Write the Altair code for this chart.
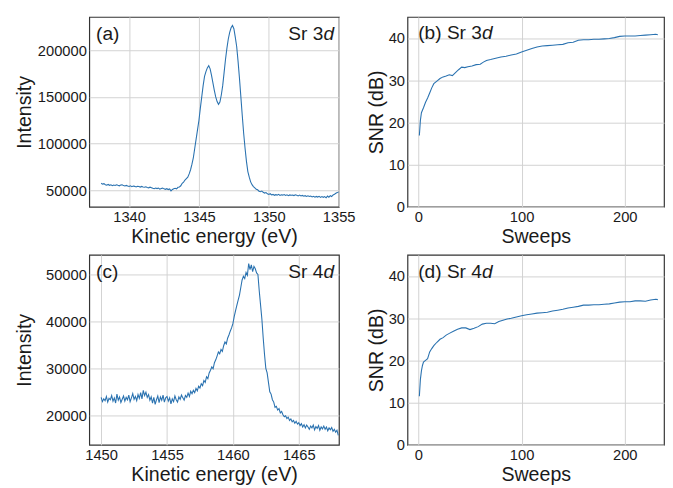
import altair as alt
import pandas as pd

# ---------------- data ----------------
# (a) Sr 3d spectrum: kinetic energy grid 1338.0 .. 1355.0, step 0.1 eV
a_e0, a_de = 1338.0, 0.1
a_intensity = [
    57500, 56600, 57100, 55900, 55500, 56200, 55300, 55800, 54900, 55600,
    55200, 55900, 55300, 54800, 55600, 55800, 55000, 54600, 55200, 54500,
    54000, 54700, 53900, 54500, 54200, 53600, 54300, 54000, 53400, 54100,
    53600, 53200, 53800, 53000, 52600, 53300, 52800, 52200, 51700, 52400,
    51800, 52400, 51200, 51900, 52300, 51500, 51000, 51700, 50800, 51400,
    49300, 50900, 51700, 52200, 51500, 53200, 53600, 54800, 57500, 58800,
    61000, 62500, 64000, 67500, 72000, 78000, 85000, 95000, 105000, 115000,
    125000, 138000, 150000, 162000, 172000, 177000, 181000, 183500, 180000, 173000,
    165000, 157000, 150000, 145000, 142000, 144500, 152000, 162000, 176000, 190000,
    202000, 212000, 219000, 224000, 226500, 223000, 214000, 204000, 188000, 170000,
    150000, 130000, 111000, 95000, 81000, 70000, 64000, 59000, 56000, 54000,
    52500, 51000, 50500, 49000, 48500, 49200, 47800, 47000, 47500, 46200,
    45500, 46300, 45000, 45600, 44600, 45300, 44800, 45700, 44500, 45200,
    44800, 45400, 44500, 45100, 44200, 45000, 44600, 44900, 44300, 45100,
    44600, 44000, 44800, 43900, 44500, 43600, 44200, 43400, 44100, 43300,
    43800, 42900, 43600, 42600, 43400, 42700, 43500, 42400, 43300, 42500,
    43200, 41900, 43800, 42600, 44200, 43300, 45000, 45800, 46800, 47500,
    48300,
]

# (c) Sr 4d spectrum: kinetic energy grid 1450.0 .. 1468.0, step 0.1 eV
c_e0, c_de = 1450.0, 0.1
c_intensity = [
    23800, 22900, 23500, 23100, 24000, 22800, 23600, 23300, 24200, 23000,
    23700, 22600, 24500, 23200, 23900, 22700, 23400, 24100, 23000, 23800,
    23300, 24300, 22900, 23700, 24600, 23400, 24000, 23100, 24400, 23600,
    24800, 23500, 25300, 24200, 24900, 23800, 24400, 23200, 23900, 22600,
    23800, 22300, 23300, 24100, 22700, 23900, 23200, 24300, 22800, 23700,
    24000, 23000, 23700, 22400, 23500, 22900, 24100, 23300, 22800, 23900,
    23400, 24300, 23700, 23200, 24200, 23800, 24700, 24000, 25100, 24600,
    25300, 24800, 25700, 25200, 26200, 25800, 26700, 26300, 27400, 27000,
    28200, 27800, 29000, 29600, 30300, 29900, 31200, 31800, 32600, 33500,
    33100, 34000, 33600, 34800, 35600, 35200, 36400, 37100, 37900, 38600,
    39500, 41000, 42200, 43400, 44500, 45600, 47200, 48800, 49600, 49100,
    50400, 49800, 52300, 51000, 52000, 50600, 51700, 51200, 50300, 50000,
    46500, 43500, 40500, 36500, 33000, 30000, 29000, 27000, 25000, 24500,
    23300, 22800, 21700, 21900, 21100, 21400, 20500, 20800, 20100, 19700,
    19900, 19300, 19600, 18900, 19200, 18600, 18900, 18300, 18700, 18100,
    18400, 17800, 18200, 17500, 18000, 17300, 17900, 17500, 17000, 17700,
    17300, 17900, 16900, 17600, 17200, 17800, 16800, 17500, 17100, 17700,
    17000, 17500, 16700, 17300, 16900, 17400, 16600, 17000, 16400, 16800,
    15700,
]

# (b) SNR vs sweeps, Sr 3d
b_sweeps = [1, 2, 3, 5, 7, 9, 11, 13, 15, 18, 21, 24, 27, 30, 33, 36, 39, 42, 45, 48,
            52, 56, 60, 63, 66, 70, 75, 80, 85, 90, 95, 100, 105, 110, 115, 120, 125,
            130, 135, 140, 145, 150, 155, 160, 165, 170, 175, 180, 185, 190, 195, 200,
            205, 210, 215, 220, 225, 230, 232]
b_snr = [16.9, 20.5, 22.3, 23.5, 24.8, 25.8, 27.0, 28.2, 29.2, 29.8, 30.4, 30.8, 31.0,
         31.3, 31.1, 31.8, 32.5, 33.1, 33.0, 33.2, 33.4, 33.7, 33.8, 34.3, 34.7, 34.9,
         35.2, 35.5, 35.7, 36.0, 36.2, 36.7, 37.1, 37.5, 37.9, 38.1, 38.2, 38.3, 38.4,
         38.5, 38.9, 39.0, 39.5, 39.6, 39.6, 39.7, 39.7, 39.8, 39.9, 40.1, 40.4, 40.5,
         40.5, 40.5, 40.6, 40.7, 40.8, 40.9, 40.8]

# (d) SNR vs sweeps, Sr 4d
d_sweeps = [1, 2, 3, 4, 5, 7, 9, 11, 13, 15, 18, 21, 24, 27, 30, 34, 38, 42, 46, 50,
            54, 58, 62, 66, 70, 74, 78, 82, 86, 90, 95, 100, 105, 110, 115, 120, 125,
            130, 135, 140, 145, 150, 155, 160, 165, 170, 175, 180, 185, 190, 195, 200,
            205, 210, 215, 220, 225, 230, 232]
d_snr = [11.5, 15.5, 17.5, 18.8, 19.6, 20.0, 20.4, 22.0, 22.8, 23.5, 24.3, 25.0, 25.4,
         26.0, 26.4, 26.9, 27.4, 27.7, 27.7, 27.3, 27.6, 28.0, 28.6, 28.8, 28.8, 28.7,
         29.2, 29.5, 29.8, 30.0, 30.3, 30.6, 30.8, 31.0, 31.2, 31.3, 31.4, 31.7, 31.9,
         32.1, 32.4, 32.6, 32.8, 33.1, 33.1, 33.2, 33.2, 33.3, 33.4, 33.6, 33.8, 33.9,
         33.9, 34.1, 34.1, 34.0, 34.3, 34.5, 34.4]

panel_tags = ["(a)", "(b) Sr 3", "(c)", "(d) Sr 4"]
core_labels = ["Sr 3", "Sr 4"]
italic_part = "d"

# ---------------- style ----------------
FONT = "Liberation Sans"
LINE = "#2a72b0"
TXT = "#1a1a1a"
W1, W2, H = 255, 262, 194
ANN = 19.5

df_a = pd.DataFrame({"e": [round(a_e0 + a_de * i, 2) for i in range(len(a_intensity))],
                     "v": a_intensity})
df_c = pd.DataFrame({"e": [round(c_e0 + c_de * i, 2) for i in range(len(c_intensity))],
                     "v": c_intensity})
df_b = pd.DataFrame({"s": b_sweeps, "v": b_snr})
df_d = pd.DataFrame({"s": d_sweeps, "v": d_snr})


def txt(label, x, y, align="left", italic=False):
    return alt.Chart(pd.DataFrame({"t": [label]})).mark_text(
        align=align, baseline="alphabetic", font=FONT, fontSize=ANN, color=TXT,
        fontStyle="italic" if italic else "normal",
    ).encode(x=alt.value(x), y=alt.value(y), text="t:N")


def spectrum(df, dom_x, ticks_x, dom_y, ticks_y, width):
    return alt.Chart(df).mark_line(color=LINE, strokeWidth=1.1, clip=True).encode(
        x=alt.X("e:Q", scale=alt.Scale(domain=dom_x, nice=False, zero=False),
                axis=alt.Axis(values=ticks_x, format="d", title="Kinetic energy (eV)")),
        y=alt.Y("v:Q", scale=alt.Scale(domain=dom_y, nice=False, zero=False),
                axis=alt.Axis(values=ticks_y, format="d", title="Intensity",
                              minExtent=54, maxExtent=54)),
    ).properties(width=width, height=H)


def snr(df, width):
    return alt.Chart(df).mark_line(color=LINE, strokeWidth=1.1, clip=True).encode(
        x=alt.X("s:Q", scale=alt.Scale(domain=[-10.5, 238], nice=False, zero=False),
                axis=alt.Axis(values=[0, 100, 200], format="d", title="Sweeps")),
        y=alt.Y("v:Q", scale=alt.Scale(domain=[0, 45], nice=False),
                axis=alt.Axis(values=[0, 10, 20, 30, 40], format="d", title="SNR (dB)",
                              minExtent=20, maxExtent=20)),
    ).properties(width=width, height=H)


pa = alt.layer(
    spectrum(df_a, [1337.15, 1355.02], [1340, 1345, 1350, 1355],
             [32200, 235600], [50000, 100000, 150000, 200000], W1),
    txt(panel_tags[0], 7, 24),
    txt(core_labels[0], 239, 24, align="right"),
    txt(italic_part, 250, 24, align="right", italic=True),
)

pb = alt.layer(
    snr(df_b, W2),
    txt(panel_tags[1], 11, 23),
    txt(italic_part, 76, 23, italic=True),
)

pc = alt.layer(
    spectrum(df_c, [1449.1, 1468.05], [1450, 1455, 1460, 1465],
             [13700, 54150], [20000, 30000, 40000, 50000], W1),
    txt(panel_tags[2], 7, 24),
    txt(core_labels[1], 239, 24, align="right"),
    txt(italic_part, 250, 24, align="right", italic=True),
)

pd_ = alt.layer(
    snr(df_d, W2),
    txt(panel_tags[3], 11, 24),
    txt(italic_part, 76, 24, italic=True),
)

chart = alt.concat(
    pa, pb, pc, pd_, columns=2, spacing={"row": 49, "column": 70}, bounds="flush"
).properties(
    padding={"left": 6, "top": 3, "right": 0, "bottom": 0}
).configure(
    font=FONT,
).configure_view(
    stroke="#333333", strokeWidth=1.2,
).configure_axis(
    labelFont=FONT, titleFont=FONT, labelFontSize=15, titleFontSize=20,
    titleFontWeight="normal", labelColor=TXT, titleColor=TXT,
    gridColor="#d2d2d2", gridWidth=1, domain=False, ticks=False,
    labelPadding=3, titlePadding=2, labelFlush=False, labelOverlap=False,
)

chart.save("out.html", embed_options={"renderer": "svg", "actions": False})
